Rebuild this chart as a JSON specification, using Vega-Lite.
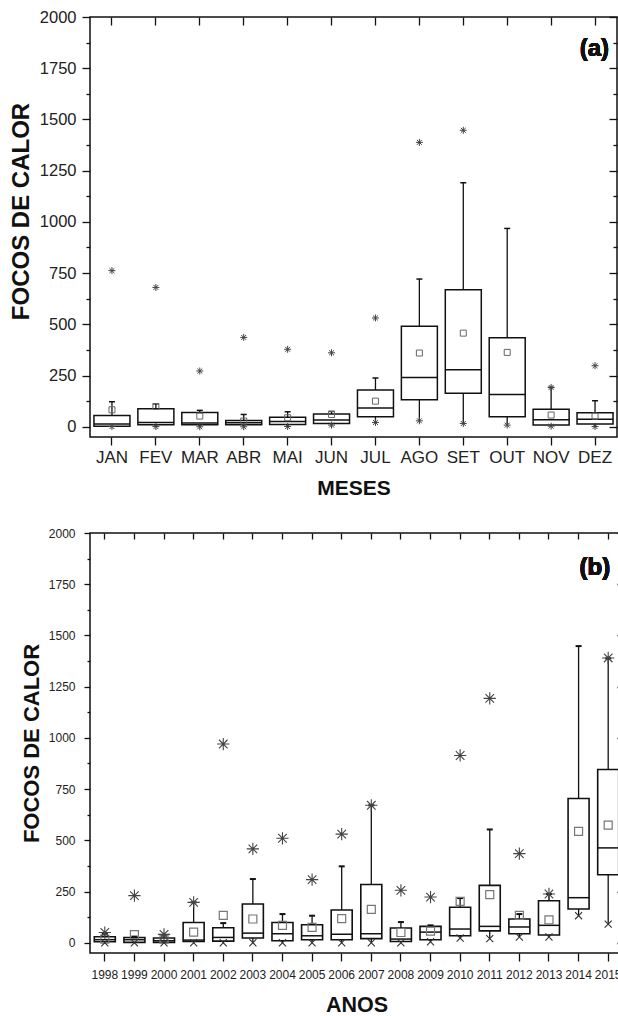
{
  "$schema": "https://vega.github.io/schema/vega-lite/v6.json",
  "background": "white",
  "padding": {"left": 8, "top": 8, "right": 0, "bottom": 0},
  "autosize": {"type": "pad"},
  "spacing": 27,
  "datasets": {
    "meses": [
      {"cat": "JAN", "lo": 1, "q1": 2, "med": 13, "q3": 55, "hi": 122, "mean": 83, "max": 762},
      {"cat": "FEV", "lo": 1, "q1": 10, "med": 21, "q3": 88, "hi": 112, "mean": 99, "max": 680},
      {"cat": "MAR", "lo": 0, "q1": 10, "med": 18, "q3": 70, "hi": 80, "mean": 52, "max": 272},
      {"cat": "ABR", "lo": 0, "q1": 10, "med": 20, "q3": 31, "hi": 60, "mean": 28, "max": 436},
      {"cat": "MAI", "lo": 1, "q1": 11, "med": 26, "q3": 46, "hi": 73, "mean": 44, "max": 378},
      {"cat": "JUN", "lo": 8, "q1": 16, "med": 33, "q3": 62, "hi": 75, "mean": 60, "max": 361},
      {"cat": "JUL", "lo": 21, "q1": 49, "med": 91, "q3": 179, "hi": 238, "mean": 125, "max": 531},
      {"cat": "AGO", "lo": 29, "q1": 132, "med": 241, "q3": 490, "hi": 721, "mean": 360, "max": 1388},
      {"cat": "SET", "lo": 16, "q1": 164, "med": 278, "q3": 669, "hi": 1191, "mean": 457, "max": 1447},
      {"cat": "OUT", "lo": 8, "q1": 49, "med": 158, "q3": 434, "hi": 968, "mean": 363, "max": null},
      {"cat": "NOV", "lo": 3, "q1": 8, "med": 34, "q3": 86, "hi": 192, "mean": 57, "max": 192},
      {"cat": "DEZ", "lo": 1, "q1": 13, "med": 37, "q3": 68, "hi": 127, "mean": 52, "max": 298}
    ],
    "anos": [
      {"cat": "1998", "lo": 0, "q1": 5, "med": 15, "q3": 29, "hi": 44, "mean": 18, "max": 50},
      {"cat": "1999", "lo": 0, "q1": 2, "med": 15, "q3": 26, "hi": 30, "mean": 40, "max": 230},
      {"cat": "2000", "lo": 0, "q1": 2, "med": 10, "q3": 23, "hi": 36, "mean": 18, "max": 41},
      {"cat": "2001", "lo": 0, "q1": 6, "med": 13, "q3": 99, "hi": 197, "mean": 52, "max": 197},
      {"cat": "2002", "lo": 0, "q1": 8, "med": 26, "q3": 73, "hi": 96, "mean": 134, "max": 970},
      {"cat": "2003", "lo": 0, "q1": 23, "med": 47, "q3": 189, "hi": 311, "mean": 116, "max": 458},
      {"cat": "2004", "lo": 0, "q1": 10, "med": 44, "q3": 99, "hi": 140, "mean": 85, "max": 510},
      {"cat": "2005", "lo": 0, "q1": 15, "med": 34, "q3": 88, "hi": 132, "mean": 75, "max": 308},
      {"cat": "2006", "lo": 0, "q1": 15, "med": 42, "q3": 160, "hi": 373, "mean": 118, "max": 530},
      {"cat": "2007", "lo": 0, "q1": 20, "med": 44, "q3": 284, "hi": 671, "mean": 163, "max": 671},
      {"cat": "2008", "lo": 0, "q1": 6, "med": 18, "q3": 72, "hi": 101, "mean": 50, "max": 256},
      {"cat": "2009", "lo": 5, "q1": 15, "med": 52, "q3": 80, "hi": 85, "mean": 57, "max": 223},
      {"cat": "2010", "lo": 23, "q1": 34, "med": 67, "q3": 173, "hi": 218, "mean": 202, "max": 914},
      {"cat": "2011", "lo": 20, "q1": 58, "med": 80, "q3": 280, "hi": 553, "mean": 235, "max": 1193},
      {"cat": "2012", "lo": 28, "q1": 44, "med": 77, "q3": 116, "hi": 140, "mean": 134, "max": 435},
      {"cat": "2013", "lo": 28, "q1": 38, "med": 85, "q3": 205, "hi": 238, "mean": 112, "max": 238},
      {"cat": "2014", "lo": 132, "q1": 165, "med": 220, "q3": 704, "hi": 1448, "mean": 544, "max": null},
      {"cat": "2015", "lo": 91, "q1": 332, "med": 463, "q3": 846, "hi": 1388, "mean": 574, "max": 1390}
    ]
  },
  "config": {
    "font": "Liberation Sans",
    "view": {"stroke": "#111", "strokeWidth": 1.5},
    "axis": {
      "domain": false,
      "grid": false,
      "tickColor": "#111",
      "tickWidth": 1.3,
      "labelColor": "#222",
      "labelFont": "Liberation Sans",
      "titleFont": "Liberation Sans",
      "titleFontWeight": "bold",
      "titleColor": "#111",
      "labelOverlap": false
    }
  },
  "vconcat": [
    {
      "data": {"name": "meses"},
      "width": 527,
      "height": 420,
      "resolve": {"axis": {"x": "independent", "y": "independent"}},
      "layer": [
        {
          "mark": {"type": "rule", "color": "#111", "strokeWidth": 1.3},
          "encoding": {
            "x": {"field": "cat", "type": "nominal", "sort": null,
              "scale": {"paddingInner": 0, "paddingOuter": 0},
              "axis": {"orient": "bottom", "title": "MESES", "labelAngle": 0, "labelFontSize": 17, "tickSize": 8, "labelPadding": 4, "titleFontSize": 21, "titlePadding": 12}},
            "y": {"field": "lo", "type": "quantitative",
              "scale": {"domain": [-50, 2000], "nice": false, "zero": false},
              "axis": {"orient": "left", "title": "FOCOS DE CALOR", "values": [0, 125, 250, 375, 500, 625, 750, 875, 1000, 1125, 1250, 1375, 1500, 1625, 1750, 1875, 2000],
                "labelExpr": "datum.value % 250 === 0 ? datum.label : ''", "format": "d",
                "tickSize": {"condition": {"test": "datum.value % 250 === 0", "value": 8}, "value": 4},
                "labelFontSize": 16.5, "labelPadding": 6, "titleFontSize": 24, "titlePadding": 6, "titleY": 194}},
            "y2": {"field": "q1"}
          }
        },
        {
          "mark": {"type": "rule", "color": "#111", "strokeWidth": 1.3},
          "encoding": {
            "x": {"field": "cat", "type": "nominal", "sort": null,
              "axis": {"orient": "top", "labels": false, "title": null, "tickSize": -8}},
            "y": {"field": "q3", "type": "quantitative",
              "axis": {"orient": "right", "labels": false, "title": null, "values": [0, 125, 250, 375, 500, 625, 750, 875, 1000, 1125, 1250, 1375, 1500, 1625, 1750, 1875, 2000],
                "tickSize": {"condition": {"test": "datum.value % 250 === 0", "value": -8}, "value": -4}}},
            "y2": {"field": "hi"}
          }
        },
        {
          "mark": {"type": "tick", "size": 6, "thickness": 1.5, "color": "#111", "opacity": 1},
          "encoding": {
            "x": {"field": "cat", "type": "nominal", "sort": null, "axis": null},
            "y": {"field": "hi", "type": "quantitative", "axis": null}
          }
        },
        {
          "mark": {"type": "bar", "width": 36, "fill": "white", "stroke": "#111", "strokeWidth": 1.5},
          "encoding": {
            "x": {"field": "cat", "type": "nominal", "sort": null, "axis": null},
            "y": {"field": "q1", "type": "quantitative", "axis": null},
            "y2": {"field": "q3"}
          }
        },
        {
          "mark": {"type": "tick", "size": 36, "thickness": 1.5, "color": "#111", "opacity": 1},
          "encoding": {
            "x": {"field": "cat", "type": "nominal", "sort": null, "axis": null},
            "y": {"field": "med", "type": "quantitative", "axis": null}
          }
        },
        {
          "mark": {"type": "point", "shape": "square", "filled": false, "size": 36, "stroke": "#666", "strokeWidth": 1, "opacity": 1},
          "encoding": {
            "x": {"field": "cat", "type": "nominal", "sort": null, "axis": null},
            "y": {"field": "mean", "type": "quantitative", "axis": null}
          }
        },
        {
          "transform": [{"filter": "isValid(datum.max)"}],
          "mark": {"type": "point", "shape": "M-1,0L1,0M0,-1L0,1M-0.7,-0.7L0.7,0.7M-0.7,0.7L0.7,-0.7", "filled": false, "size": 49, "stroke": "#444", "strokeWidth": 1, "opacity": 1},
          "encoding": {
            "x": {"field": "cat", "type": "nominal", "sort": null, "axis": null},
            "y": {"field": "max", "type": "quantitative", "axis": null}
          }
        },
        {
          "mark": {"type": "point", "shape": "M-1,0L1,0M0,-1L0,1M-0.7,-0.7L0.7,0.7M-0.7,0.7L0.7,-0.7", "filled": false, "size": 49, "stroke": "#444", "strokeWidth": 1, "opacity": 1},
          "encoding": {
            "x": {"field": "cat", "type": "nominal", "sort": null, "axis": null},
            "y": {"field": "lo", "type": "quantitative", "axis": null}
          }
        },
        {
          "mark": {"type": "text", "text": "(a)", "font": "Liberation Sans", "fontSize": 24, "fontWeight": "bold", "align": "right", "baseline": "middle", "dx": 14, "fill": "#111", "strokeWidth": 0},
          "encoding": {
            "x": {"datum": "DEZ", "type": "nominal", "axis": null},
            "y": {"datum": 1845, "type": "quantitative", "axis": null}
          }
        }
      ]
    },
    {
      "data": {"name": "anos"},
      "width": 533,
      "height": 420,
      "resolve": {"axis": {"x": "independent", "y": "independent"}},
      "layer": [
        {
          "mark": {"type": "rule", "color": "#111", "strokeWidth": 1.3},
          "encoding": {
            "x": {"field": "cat", "type": "nominal", "sort": null,
              "scale": {"paddingInner": 0, "paddingOuter": 0},
              "axis": {"orient": "bottom", "title": "ANOS", "labelAngle": 0, "labelFontSize": 12, "tickSize": 8, "labelPadding": 8, "titleFontSize": 21.5, "titlePadding": 14}},
            "y": {"field": "lo", "type": "quantitative",
              "scale": {"domain": [-50, 2000], "nice": false, "zero": false},
              "axis": {"orient": "left", "title": "FOCOS DE CALOR", "values": [0, 125, 250, 375, 500, 625, 750, 875, 1000, 1125, 1250, 1375, 1500, 1625, 1750, 1875, 2000],
                "labelExpr": "datum.value % 250 === 0 ? datum.label : ''", "format": "d",
                "tickSize": {"condition": {"test": "datum.value % 250 === 0", "value": 6}, "value": 3},
                "labelFontSize": 12, "labelPadding": 9, "titleFontSize": 22, "titlePadding": 5}},
            "y2": {"field": "q1"}
          }
        },
        {
          "mark": {"type": "rule", "color": "#111", "strokeWidth": 1.3},
          "encoding": {
            "x": {"field": "cat", "type": "nominal", "sort": null,
              "axis": {"orient": "top", "labels": false, "title": null, "tickSize": -6}},
            "y": {"field": "q3", "type": "quantitative",
              "axis": {"orient": "right", "labels": false, "title": null, "values": [0, 125, 250, 375, 500, 625, 750, 875, 1000, 1125, 1250, 1375, 1500, 1625, 1750, 1875, 2000],
                "tickSize": {"condition": {"test": "datum.value % 250 === 0", "value": -6}, "value": -3}}},
            "y2": {"field": "hi"}
          }
        },
        {
          "mark": {"type": "tick", "size": 6, "thickness": 2, "color": "#111", "opacity": 1},
          "encoding": {
            "x": {"field": "cat", "type": "nominal", "sort": null, "axis": null},
            "y": {"field": "hi", "type": "quantitative", "axis": null}
          }
        },
        {
          "mark": {"type": "bar", "width": 21, "fill": "white", "stroke": "#111", "strokeWidth": 1.6},
          "encoding": {
            "x": {"field": "cat", "type": "nominal", "sort": null, "axis": null},
            "y": {"field": "q1", "type": "quantitative", "axis": null},
            "y2": {"field": "q3"}
          }
        },
        {
          "mark": {"type": "tick", "size": 21, "thickness": 1.5, "color": "#111", "opacity": 1},
          "encoding": {
            "x": {"field": "cat", "type": "nominal", "sort": null, "axis": null},
            "y": {"field": "med", "type": "quantitative", "axis": null}
          }
        },
        {
          "mark": {"type": "point", "shape": "square", "filled": false, "size": 64, "stroke": "#777", "strokeWidth": 1.2, "opacity": 1},
          "encoding": {
            "x": {"field": "cat", "type": "nominal", "sort": null, "axis": null},
            "y": {"field": "mean", "type": "quantitative", "axis": null}
          }
        },
        {
          "transform": [{"filter": "isValid(datum.max)"}],
          "mark": {"type": "point", "shape": "M-1,0L1,0M0,-1L0,1M-0.7,-0.7L0.7,0.7M-0.7,0.7L0.7,-0.7", "filled": false, "size": 150, "stroke": "#444", "strokeWidth": 1.1, "opacity": 1},
          "encoding": {
            "x": {"field": "cat", "type": "nominal", "sort": null, "axis": null},
            "y": {"field": "max", "type": "quantitative", "axis": null}
          }
        },
        {
          "mark": {"type": "point", "shape": "M-1,-1L1,1M-1,1L1,-1", "filled": false, "size": 50, "stroke": "#333", "strokeWidth": 1.1, "opacity": 1},
          "encoding": {
            "x": {"field": "cat", "type": "nominal", "sort": null, "axis": null},
            "y": {"field": "lo", "type": "quantitative", "axis": null}
          }
        },
        {
          "mark": {"type": "text", "text": "(b)", "font": "Liberation Sans", "fontSize": 24, "fontWeight": "bold", "align": "right", "baseline": "middle", "dx": 2, "fill": "#111", "strokeWidth": 0},
          "encoding": {
            "x": {"datum": "2015", "type": "nominal", "axis": null},
            "y": {"datum": 1831, "type": "quantitative", "axis": null}
          }
        }
      ]
    }
  ]
}
